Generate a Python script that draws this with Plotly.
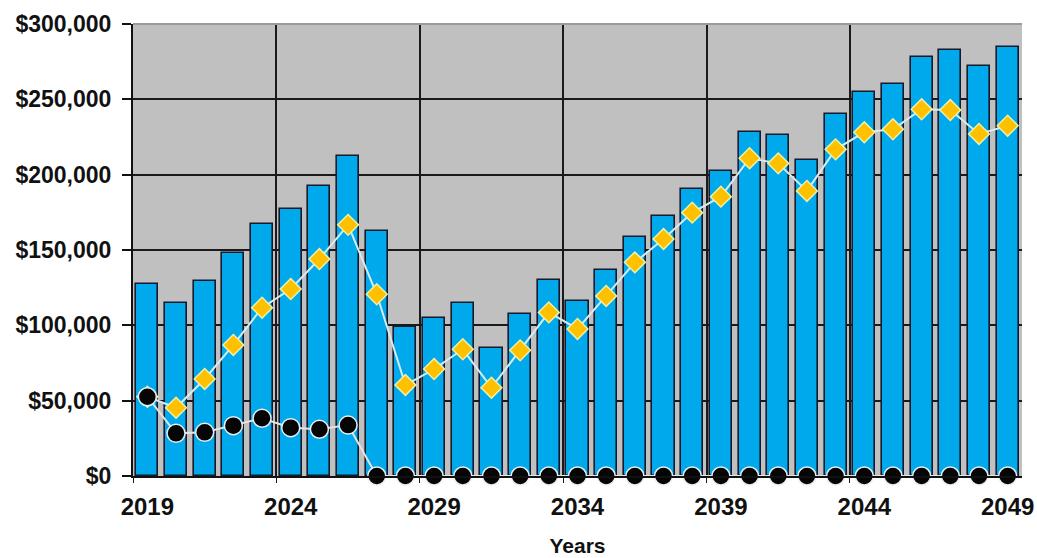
import plotly.graph_objects as go

years = list(range(2019, 2050))
bar_values = [127400, 115000, 129600, 148300, 167500, 177300, 192700, 212100,
              162600, 98700, 104700, 115000, 85200, 107700, 130300, 115900,
              136700, 158400, 172600, 190300, 202400, 228100, 226100, 209500,
              240500, 254900, 260000, 278300, 282700, 272300, 284500]
diamond_values = [52600, 45300, 64400, 87000, 111700, 124100, 144000, 166700,
                  120600, 60400, 71000, 84100, 58600, 83400, 108600, 97600,
                  119500, 141800, 157300, 174800, 185400, 210900, 207500, 189200,
                  216800, 228100, 230100, 243400, 242900, 227000, 232500]
circle_values = [52600, 28300, 29000, 33400, 38300, 32100, 31000, 33800] + [0] * 23
label_years = [2019, 2024, 2029, 2034, 2039, 2044, 2049]
grid_years = [y - 0.5 for y in label_years[:-1]]
y_ticks = [0, 50000, 100000, 150000, 200000, 250000, 300000]

FONT = "Liberation Sans"

fig = go.Figure()
fig.add_trace(go.Bar(
    x=years, y=bar_values, width=0.77,
    marker=dict(color="#00A9EC", line=dict(color="#15192B", width=1.6)),
    showlegend=False, xaxis="x", yaxis="y"))
fig.add_trace(go.Scatter(
    x=years, y=diamond_values, mode="lines+markers",
    line=dict(color="#D6ECF3", width=2),
    marker=dict(symbol="diamond", size=16, color="#FFC000",
                line=dict(color="#EEF0A8", width=1.5)),
    showlegend=False, xaxis="x", yaxis="y"))
fig.add_trace(go.Scatter(
    x=years, y=circle_values, mode="lines+markers",
    line=dict(color="#E4E4E4", width=2),
    marker=dict(symbol="circle", size=18, color="#050505",
                line=dict(color="#E8EEF2", width=1.5)),
    cliponaxis=False,
    showlegend=False, xaxis="x2", yaxis="y"))

xr = [years[0] - 0.5, years[-1] + 0.5]
fig.update_layout(
    width=1037, height=558,
    margin=dict(l=133, r=15, t=24, b=82),
    paper_bgcolor="white", plot_bgcolor="#C0C0C0",
    bargap=0,
    font=dict(family=FONT, color="#111111"),
    xaxis=dict(range=xr, tickvals=label_years, ticktext=[str(y) for y in label_years],
               automargin=False,
               showgrid=False, zeroline=False, showline=True, linecolor="#111111", linewidth=2,
               ticks="outside", ticklen=8, tickcolor="rgba(0,0,0,0)",
               tickfont=dict(family=FONT, size=24, color="#111111", weight="bold"),
               title=dict(text="Years", standoff=20,
                          font=dict(family=FONT, size=21, color="#111111", weight="bold"))),
    xaxis2=dict(range=xr, overlaying="x", side="bottom", tickvals=grid_years,
                automargin=False,
                showticklabels=False, showgrid=True, gridcolor="#1A1A1A", gridwidth=1.5,
                ticks="outside", ticklen=6, tickcolor="#1A1A1A", tickwidth=1,
                zeroline=False, showline=False),
    yaxis=dict(range=[0, 300000], tickvals=y_ticks, tickformat="$,.0f",
               automargin=False,
               showgrid=True, gridcolor="#1A1A1A", gridwidth=1.5, zeroline=False,
               showline=True, linecolor="#111111", linewidth=2,
               ticks="outside", ticklen=9, tickcolor="#111111", tickwidth=1.5,
               ticklabelstandoff=6,
               tickfont=dict(family=FONT, size=23, color="#111111", weight="bold")),
    shapes=[dict(type="line", xref="x domain", yref="y domain", x0=0, x1=1, y0=1, y1=1,
                 line=dict(color="#9A9A9A", width=2), layer="above")],
)

fig.write_html("out.html")
